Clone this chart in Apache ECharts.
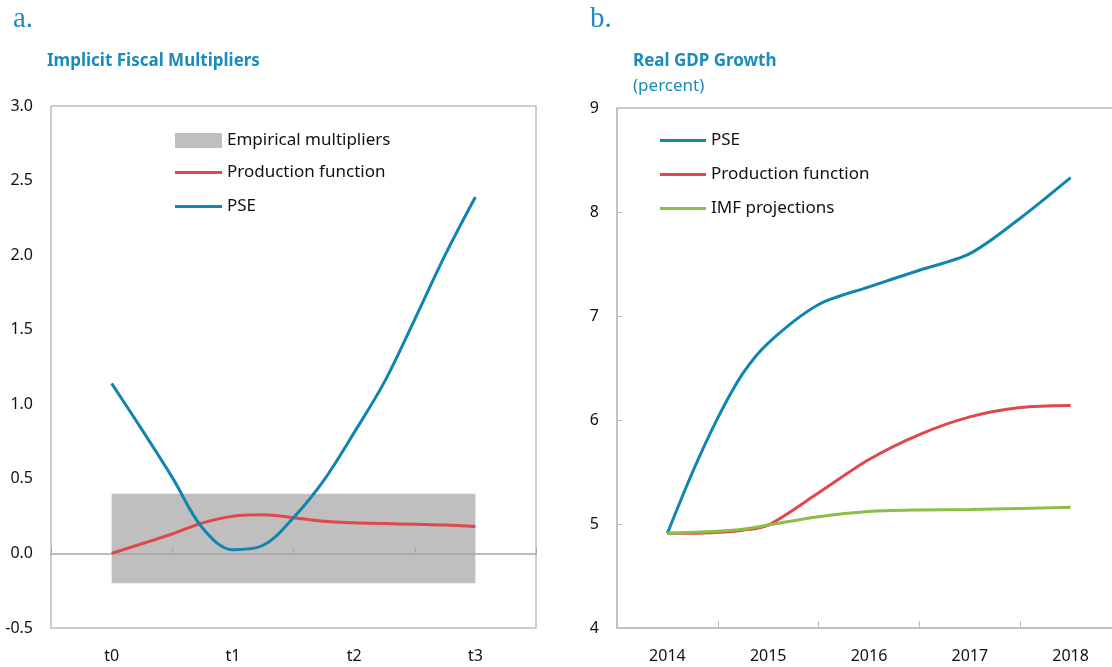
<!DOCTYPE html>
<html>
<head>
<meta charset="utf-8">
<script src="https://cdn.jsdelivr.net/npm/echarts@6/dist/echarts.min.js"></script>
<style>
  html, body { margin: 0; padding: 0; background: #fff; }
  #chart { width: 1112px; height: 667px; }
</style>
</head>
<body>
<div id="chart"></div>
<script>
// panel a
var phases = ['t0', 't1', 't2', 't3'];
var phasePos = [0, 0.25, 0.5, 0.75, 1, 1.25, 1.5, 1.75, 2, 2.25, 2.5, 2.75, 3];
var psePhase = [1.14, 0.83, 0.51, 0.17, 0.025, 0.055, 0.24, 0.49, 0.81, 1.15, 1.57, 2.0, 2.39];
var prodPhase = [0.0, 0.065, 0.13, 0.205, 0.25, 0.26, 0.24, 0.215, 0.205, 0.2, 0.195, 0.19, 0.18];
var empiricalBand = [-0.2, 0.4];

// panel b
var years = ['2014', '2015', '2016', '2017', '2018'];
var yearPos = [2014, 2014.25, 2014.5, 2014.75, 2015, 2015.5, 2016, 2016.5, 2017, 2017.5, 2018];
var pseGrowth = [4.91, 5.5, 6.02, 6.45, 6.74, 7.11, 7.28, 7.44, 7.6, 7.94, 8.33];
var prodGrowth = [4.91, 4.91, 4.92, 4.94, 4.99, 5.3, 5.62, 5.86, 6.03, 6.12, 6.14];
var imfGrowth = [4.91, 4.92, 4.93, 4.95, 4.99, 5.07, 5.12, 5.135, 5.14, 5.15, 5.16];

var BLUE = '#0f85b0', RED = '#e0474c', GREEN = '#8cbd45', GRAY = '#bfbfbf', TITLE = '#1b8bbd';
var FONT = '"Noto Sans", "Open Sans", sans-serif';

function pairs(xs, ys) {
    return xs.map(function (x, i) { return [x, ys[i]]; });
}

var chart = echarts.init(document.getElementById('chart'));

var legendText = { fontSize: 17, color: '#111', fontFamily: FONT };

chart.setOption({
    animation: false,
    textStyle: { fontFamily: FONT },
    title: [
        { text: 'a.', left: 8, top: 0, textStyle: { fontFamily: '"Liberation Serif", serif', fontWeight: 'normal', fontSize: 29, color: TITLE } },
        { text: 'b.', left: 585, top: 0, textStyle: { fontFamily: '"Liberation Serif", serif', fontWeight: 'normal', fontSize: 29, color: TITLE } },
        { text: 'Implicit Fiscal Multipliers', left: 42, top: 48, textStyle: { fontSize: 17, fontWeight: 'bold', color: TITLE } },
        { text: 'Real GDP Growth', subtext: '(percent)', left: 628, top: 48, itemGap: 8,
          textStyle: { fontSize: 17, fontWeight: 'bold', color: TITLE },
          subtextStyle: { fontSize: 17, color: TITLE } }
    ],
    legend: [
        { orient: 'vertical', left: 170, top: 127, itemWidth: 47, itemHeight: 15, textStyle: legendText,
          data: [{ name: 'Empirical multipliers', icon: 'rect' }] },
        { orient: 'vertical', left: 170, top: 159, itemWidth: 47, itemHeight: 3, itemGap: 17, icon: 'rect',
          textStyle: legendText, data: ['Production function', 'PSE'] },
        { orient: 'vertical', left: 655, top: 127, itemWidth: 46, itemHeight: 3, itemGap: 17, icon: 'rect',
          textStyle: legendText, data: ['PSE ', 'Production function ', 'IMF projections'] }
    ],
    grid: [
        { left: 51, right: 576, top: 106, bottom: 39, outerBoundsMode: 'none',
          show: true, borderColor: GRAY, borderWidth: 1.5 },
        { left: 617, width: 504, top: 108, bottom: 39, outerBoundsMode: 'none',
          show: true, borderColor: GRAY, borderWidth: 1.5 }
    ],
    xAxis: [
        { type: 'value', gridIndex: 0, position: 'bottom', min: -0.5, max: 3.5, interval: 1, z: 5,
          axisLine: { show: true, onZero: true, lineStyle: { color: '#a6a6a6', width: 1.5 } },
          axisTick: { show: true, inside: true, length: 6, lineStyle: { color: '#a6a6a6' } },
          axisLabel: { show: false }, splitLine: { show: false } },
        { type: 'category', gridIndex: 0, position: 'bottom', data: phases, boundaryGap: true,
          axisLine: { show: false, onZero: false }, axisTick: { show: false },
          axisLabel: { fontSize: 16, color: '#111', margin: 20 } },
        { type: 'value', gridIndex: 1, position: 'bottom', min: 2013.5, max: 2018.5, interval: 1,
          axisLine: { show: true, onZero: false, lineStyle: { color: GRAY, width: 1.5 } },
          axisTick: { show: true, inside: true, length: 7, lineStyle: { color: GRAY } },
          axisLabel: { show: false }, splitLine: { show: false } },
        { type: 'category', gridIndex: 1, position: 'bottom', data: years, boundaryGap: true,
          axisLine: { show: false, onZero: false }, axisTick: { show: false },
          axisLabel: { fontSize: 16, color: '#111', margin: 20 } }
    ],
    yAxis: [
        { type: 'value', gridIndex: 0, min: -0.5, max: 3.0, interval: 0.5,
          axisLine: { show: false }, axisTick: { show: false }, splitLine: { show: false },
          axisLabel: { fontSize: 16, color: '#111', margin: 18, formatter: function (v) { return v.toFixed(1); } } },
        { type: 'value', gridIndex: 1, min: 4, max: 9, interval: 1,
          axisLine: { show: true, lineStyle: { color: GRAY, width: 1.5 } },
          axisTick: { show: true, inside: true, length: 5, lineStyle: { color: GRAY } },
          splitLine: { show: false },
          axisLabel: { fontSize: 16, color: '#111', margin: 18 } }
    ],
    series: [
        { name: 'Empirical multipliers', type: 'line', xAxisIndex: 0, yAxisIndex: 0, data: [],
          itemStyle: { color: GRAY }, lineStyle: { color: GRAY },
          markArea: { silent: true, itemStyle: { color: GRAY, opacity: 1 },
            data: [[{ coord: [0, empiricalBand[1]] }, { coord: [3, empiricalBand[0]] }]] } },
        { name: 'Production function', type: 'line', xAxisIndex: 0, yAxisIndex: 0, smooth: 0.35,
          symbol: 'none', data: pairs(phasePos, prodPhase), z: 6,
          itemStyle: { color: RED }, lineStyle: { color: RED, width: 3 } },
        { name: 'PSE', type: 'line', xAxisIndex: 0, yAxisIndex: 0, smooth: 0.35,
          symbol: 'none', data: pairs(phasePos, psePhase), z: 7,
          itemStyle: { color: BLUE }, lineStyle: { color: BLUE, width: 3 } },
        { name: 'PSE ', type: 'line', xAxisIndex: 2, yAxisIndex: 1, smooth: 0.3,
          symbol: 'none', data: pairs(yearPos, pseGrowth),
          itemStyle: { color: BLUE }, lineStyle: { color: BLUE, width: 3 } },
        { name: 'Production function ', type: 'line', xAxisIndex: 2, yAxisIndex: 1, smooth: 0.3,
          symbol: 'none', data: pairs(yearPos, prodGrowth),
          itemStyle: { color: RED }, lineStyle: { color: RED, width: 3 } },
        { name: 'IMF projections', type: 'line', xAxisIndex: 2, yAxisIndex: 1, smooth: 0.3,
          symbol: 'none', data: pairs(yearPos, imfGrowth), z: 4,
          itemStyle: { color: GREEN }, lineStyle: { color: GREEN, width: 3 } }
    ]
});
</script>
</body>
</html>
